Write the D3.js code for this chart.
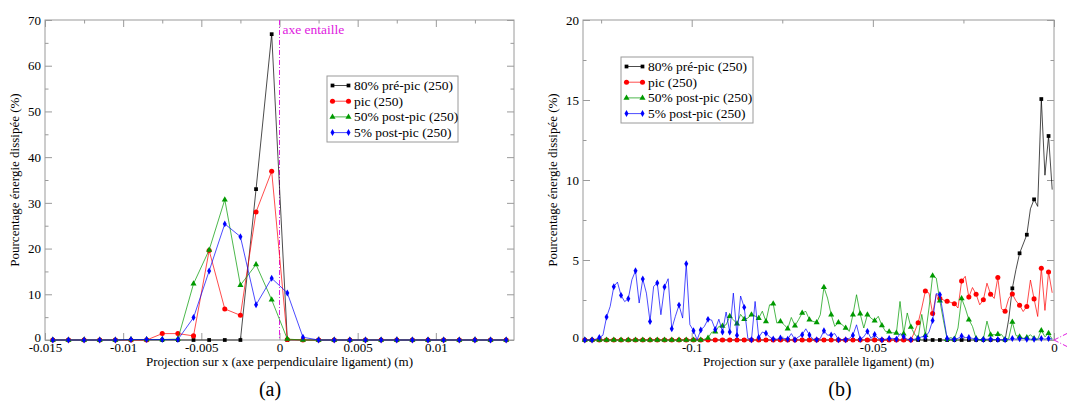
<!DOCTYPE html>
<head>
  <meta charset="utf-8">
  <script src="https://d3js.org/d3.v7.min.js"></script>
  <style>
    body { margin: 0; background: #fff; }
    * { font-family: "Liberation Serif", "DejaVu Serif", serif; }
  </style>
</head>
<body>
  <svg width="1067" height="413"></svg>
  <script>
    // --- shared ---
    const seriesNames = ["80% pré-pic (250)", "pic (250)", "50% post-pic (250)", "5% post-pic (250)"];
    const seriesColors = ["#000000", "#ff0000", "#009a00", "#0000ff"];

    // --- panel (a): projection on x ---
    const xA = [-0.0145, -0.0135, -0.0125, -0.0115, -0.0105, -0.0095, -0.0085, -0.0075, -0.0065, -0.0055,
      -0.0045, -0.0035, -0.0025, -0.0015, -0.0005, 0.0005, 0.0015, 0.0025, 0.0035, 0.0045,
      0.0055, 0.0065, 0.0075, 0.0085, 0.0095, 0.0105, 0.0115, 0.0125, 0.0135, 0.0145];
    const blackA = [0, 0, 0, 0, 0, 0, 0, 0, 0, 0, 0, 0, 0, 33.0, 66.9, 0, 0, 0, 0, 0, 0, 0, 0, 0, 0, 0, 0, 0, 0, 0];
    const redA = [0, 0, 0, 0, 0, 0, 0, 1.4, 1.4, 0.9, 19.6, 6.8, 5.4, 28.0, 36.9, 0.1, 0, 0, 0, 0, 0, 0, 0, 0, 0, 0, 0, 0, 0, 0];
    const greenA = [0, 0, 0, 0, 0, 0.1, 0.1, 0.1, 0.2, 12.3, 19.7, 30.7, 12.0, 16.5, 8.8, 0.2, 0, 0, 0, 0, 0, 0, 0, 0, 0, 0, 0, 0, 0, 0];
    const blueA = [0, 0, 0, 0, 0, 0.1, 0.1, 0.1, 0.1, 4.9, 15.1, 25.4, 22.6, 7.7, 13.5, 10.3, 0.6, 0, 0, 0, 0, 0, 0, 0, 0, 0, 0, 0, 0, 0];
    const xMajorA = [-0.015, -0.01, -0.005, 0, 0.005, 0.01];
    const xMajorLabelsA = ["-0.015", "-0.01", "-0.005", "0", "0.005", "0.01"];
    const xMinorA = [-0.0125, -0.0075, -0.0025, 0.0025, 0.0075, 0.0125];
    const yMajorA = [0, 10, 20, 30, 40, 50, 60, 70];
    const yMinorA = [5, 15, 25, 35, 45, 55, 65];

    // --- panel (b): projection on y ---
    const xB = [
      -0.1295, -0.1285, -0.1275, -0.1265, -0.1255, -0.1245, -0.1235, -0.1225, -0.1215, -0.1205,
      -0.1195, -0.1185, -0.1175, -0.1165, -0.1155, -0.1145, -0.1135, -0.1125, -0.1115, -0.1105,
      -0.1095, -0.1085, -0.1075, -0.1065, -0.1055, -0.1045, -0.1035, -0.1025, -0.1015, -0.1005,
      -0.0995, -0.0985, -0.0975, -0.0965, -0.0955, -0.0945, -0.0935, -0.0925, -0.0915, -0.0905,
      -0.0895, -0.0885, -0.0875, -0.0865, -0.0855, -0.0845, -0.0835, -0.0825, -0.0815, -0.0805,
      -0.0795, -0.0785, -0.0775, -0.0765, -0.0755, -0.0745, -0.0735, -0.0725, -0.0715, -0.0705,
      -0.0695, -0.0685, -0.0675, -0.0665, -0.0655, -0.0645, -0.0635, -0.0625, -0.0615, -0.0605,
      -0.0595, -0.0585, -0.0575, -0.0565, -0.0555, -0.0545, -0.0535, -0.0525, -0.0515, -0.0505,
      -0.0495, -0.0485, -0.0475, -0.0465, -0.0455, -0.0445, -0.0435, -0.0425, -0.0415, -0.0405,
      -0.0395, -0.0385, -0.0375, -0.0365, -0.0355, -0.0345, -0.0335, -0.0325, -0.0315, -0.0305,
      -0.0295, -0.0285, -0.0275, -0.0265, -0.0255, -0.0245, -0.0235, -0.0225, -0.0215, -0.0205,
      -0.0195, -0.0185, -0.0175, -0.0165, -0.0155, -0.0145, -0.0135, -0.0125, -0.0115, -0.0105,
      -0.0095, -0.0085, -0.0075, -0.0065, -0.0055, -0.0045, -0.0035, -0.0025, -0.0015, -0.0005];
    const blackB = [
      0, 0, 0, 0, 0, 0, 0, 0, 0, 0, 0, 0, 0, 0, 0, 0, 0, 0, 0, 0,
      0, 0, 0, 0, 0, 0, 0, 0, 0, 0, 0, 0, 0, 0, 0, 0, 0, 0, 0, 0,
      0, 0, 0, 0, 0, 0, 0, 0, 0, 0, 0, 0, 0, 0, 0, 0, 0, 0, 0, 0,
      0, 0, 0, 0, 0, 0, 0, 0, 0, 0, 0, 0, 0, 0, 0, 0, 0, 0, 0, 0,
      0, 0, 0, 0, 0, 0, 0, 0, 0, 0, 0, 0, 0, 0, 0, 0, 0, 0, 0, 0,
      0, 0, 0, 0, 0, 0, 0, 0, 0, 0, 0, 0, 0, 0, 0, 0, 0, 1.3, 3.23, 4.4,
      5.42, 6.0, 6.58, 8.2, 8.79, 8.35, 15.06, 10.3, 12.75, 9.4];
    const redB = [
      0, 0, 0, 0, 0, 0, 0, 0, 0, 0, 0, 0, 0, 0, 0, 0, 0, 0, 0, 0,
      0, 0, 0, 0, 0, 0, 0, 0, 0, 0, 0, 0, 0, 0, 0, 0, 0, 0, 0, 0,
      0, 0, 0, 0, 0, 0, 0, 0, 0, 0, 0, 0, 0, 0, 0, 0, 0, 0, 0, 0,
      0, 0, 0, 0, 0, 0, 0, 0, 0, 0, 0, 0, 0, 0, 0, 0, 0, 0, 0, 0,
      0, 0, 0, 0, 0, 0, 0, 0, 0, 0, 0, 0.5, 1.08, 2.0, 3.06, 2.93, 1.65, 2.85, 2.6, 2.5,
      2.42, 2.35, 2.27, 2.0, 3.68, 3.98, 2.68, 3.28, 2.86, 2.2, 2.51, 3.55, 2.86, 2.6, 3.9, 1.95, 1.8, 2.6, 2.88, 2.45,
      2.17, 1.78, 2.1, 3.75, 2.57, 1.47, 4.49, 1.85, 4.25, 2.95];
    const greenB = [
      0, 0, 0, 0, 0, 0, 0, 0, 0, 0, 0, 0, 0, 0, 0, 0, 0, 0, 0, 0,
      0, 0, 0, 0, 0, 0, 0, 0, 0, 0, 0, 0, 0, 0.05, 0.12, 0.48, 0.52, 0.85, 0.88, 0.95,
      1.48, 1.27, 1.02, 1.6, 1.3, 1.37, 1.58, 1.5, 1.36, 1.8, 1.16, 2.2, 2.26, 1.06, 1.16, 0.96, 0.71, 1.41, 0.89, 1.27,
      1.69, 1.79, 1.27, 1.16, 1.1, 1.58, 3.29, 2.62, 1.58, 0.85, 1.1, 0.96, 0.75, 0.54, 1.58, 2.83, 1.64, 0.75, 1.58, 1.37,
      1.2, 1.48, 0.91, 0.54, 0.52, 0.45, 0.44, 2.41, 0.39, 1.69, 0.81, 0.37, 0.12, 1.6, 0.3, 2.0, 4.02, 3.87, 2.45, 1.2,
      0.05, 0.15, 0.06, 0.75, 2.6, 2.0, 1.27, 0.85, 0.1, 0.02, 0.05, 1.18, 0.33, 0.33, 0.36, 0.35, 0.03, 0.1, 1.12, 0.28,
      0.21, 0.1, 0.16, 0.33, 0.1, 0.05, 0.6, 0.2, 0.42, 0.06];
    const blueB = [
      0, 0, 0, 0.05, 0.15, 0.3, 1.43, 2.1, 3.33, 3.62, 2.79, 2.4, 2.58, 3.77, 4.33, 2.31, 3.81, 2.93, 1.16, 3.35,
      3.56, 1.58, 3.31, 3.83, 0.7, 1.48, 2.18, 1.37, 4.77, 0.96, 0.58, 0.02, 0.62, 0.85, 1.29, 1.25, 0.66, 1.3, 0.5, 1.75,
      0.5, 2.93, 0.29, 2.75, 2.04, 0.1, 0.02, 2.41, 0.16, 0.5, 0.42, 0.2, 0.06, 0.05, 0.12, 0.1, 0.05, 0.4, 0.02, 0.2,
      0.33, 0.7, 0.31, 0.05, 0.02, 0.1, 0.58, 0.3, 0.31, 0.4, 0.02, 0.02, 0.02, 0.1, 0.3, 0.95, 0.05, 0.2, 0.54, 0.1,
      0.35, 0.1, 0.02, 0.05, 0.1, 0.1, 0.05, 0.4, 0.2, 0.05, 0.02, 0.05, 0.1, 0.2, 0.2, 0.5, 1.22, 2.9, 2.83, 1.5,
      0.1, 0.05, 0.05, 0.1, 0.25, 0.15, 0.15, 0.1, 0.05, 0.03, 0.03, 0.05, 0.05, 0.03, 0.03, 0.02, 0.02, 0.03, 0.1, 0.05,
      0.08, 0.1, 0.05, 0.05, 0.05, 0.05, 0.1, 0.05, 0.1, 0.05];
    const xMajorB = [-0.1, -0.05, 0];
    const xMajorLabelsB = ["-0.1", "-0.05", "0"];
    const xMinorB = [-0.125, -0.075, -0.025];
    const yMajorB = [0, 5, 10, 15, 20];
    const yMinorB = [2.5, 7.5, 12.5, 17.5];

    const svg = d3.select("svg");
    const symbols = [d3.symbolSquare, d3.symbolCircle, d3.symbolTriangle, d3.symbolDiamond];
    const symSizes = [14, 20, 16, 14];
    const frameColor = "#9a9a9a";

    function drawPanel(p) {
      const x = d3.scaleLinear().domain(p.xDomain).range([p.left, p.right]);
      const y = d3.scaleLinear().domain(p.yDomain).range([p.bottom, p.top]);
      const g = svg.append("g");

      // ticks on all four sides, pointing inward
      const addAxis = (axis, tx, ty, labels) => {
        const a = g.append("g").attr("transform", `translate(${tx},${ty})`).call(axis);
        a.select(".domain").remove();
        a.selectAll(".tick line").attr("stroke", frameColor);
        a.selectAll(".tick text").attr("fill", "#000").style("font-size", "13px");
        if (!labels) a.selectAll(".tick text").remove();
        return a;
      };
      const fmt = (vals, labels) => d => labels[vals.indexOf(d)];
      addAxis(d3.axisBottom(x).tickValues(p.xMajor).tickFormat(fmt(p.xMajor, p.xLabels))
        .tickSize(-7).tickPadding(3), 0, p.bottom, true);
      addAxis(d3.axisBottom(x).tickValues(p.xMinor).tickFormat("").tickSize(-3.5), 0, p.bottom, false);
      addAxis(d3.axisTop(x).tickValues(p.xMajor).tickSize(-7), 0, p.top, false);
      addAxis(d3.axisTop(x).tickValues(p.xMinor).tickSize(-3.5), 0, p.top, false);
      const yl = addAxis(d3.axisLeft(y).tickValues(p.yMajor).tickFormat(d3.format("d"))
        .tickSize(-7).tickPadding(4), p.left, 0, true);
      // the "0" label sits a little above the x tick labels
      yl.selectAll(".tick text").filter(d => d === 0).attr("dy", "0.1em");
      addAxis(d3.axisLeft(y).tickValues(p.yMinor).tickFormat("").tickSize(-3.5), p.left, 0, false);
      addAxis(d3.axisRight(y).tickValues(p.yMajor).tickSize(-7), p.right, 0, false);
      addAxis(d3.axisRight(y).tickValues(p.yMinor).tickSize(-3.5), p.right, 0, false);

      g.append("rect")
        .attr("x", p.left).attr("y", p.top)
        .attr("width", p.right - p.left).attr("height", p.bottom - p.top)
        .attr("fill", "none").attr("stroke", frameColor);

      if (p.notch) p.notch(g, x, y);

      const line = d3.line().x(d => x(d[0])).y(d => y(d[1]));
      p.series.forEach((vals, s) => {
        const pts = vals.map((v, i) => [p.xs[i], v]);
        g.append("path").datum(pts)
          .attr("d", line).attr("fill", "none")
          .attr("stroke", seriesColors[s]).attr("stroke-width", 1).attr("stroke-opacity", 0.7);
        g.selectAll(null).data(pts.filter((d, i) => i % p.skip === 0)).join("path")
          .attr("transform", d => `translate(${x(d[0])},${y(d[1])})`)
          .attr("d", d3.symbol().type(symbols[s]).size(symSizes[s]))
          .attr("fill", seriesColors[s]);
      });

      // legend
      const lg = g.append("g").attr("transform", `translate(${p.legend.x},${p.legend.y})`);
      lg.append("rect").attr("width", p.legend.w).attr("height", p.legend.h)
        .attr("fill", "#fff").attr("stroke", frameColor);
      seriesNames.forEach((name, s) => {
        const cy = 9.5 + s * 15.7;
        lg.append("line").attr("x1", 5.5).attr("x2", 21.5).attr("y1", cy).attr("y2", cy)
          .attr("stroke", seriesColors[s]).attr("stroke-opacity", 0.7);
        [5.5, 21.5].forEach(cx => lg.append("path")
          .attr("transform", `translate(${cx},${cy})`)
          .attr("d", d3.symbol().type(symbols[s]).size(symSizes[s]))
          .attr("fill", seriesColors[s]));
        lg.append("text").attr("x", 27).attr("y", cy + 4.5)
          .style("font-size", "13.5px").text(name);
      });

      g.append("text")
        .attr("x", (p.left + p.right) / 2).attr("y", p.bottom + 26)
        .attr("text-anchor", "middle").style("font-size", "13px").text(p.xTitle);
      g.append("text")
        .attr("transform", `translate(${p.yTitleX},${(p.top + p.bottom) / 2}) rotate(-90)`)
        .attr("text-anchor", "middle").style("font-size", "13px")
        .text("Pourcentage énergie dissipée (%)");
      g.append("text")
        .attr("x", p.tagX).attr("y", 396)
        .attr("text-anchor", "middle").style("font-size", "20px").text(p.tag);
    }

    drawPanel({
      left: 45, right: 514, top: 20, bottom: 340,
      xDomain: [-0.015, 0.015], yDomain: [0, 70],
      xMajor: xMajorA, xLabels: xMajorLabelsA, xMinor: xMinorA,
      yMajor: yMajorA, yMinor: yMinorA,
      xs: xA, series: [blackA, redA, greenA, blueA], skip: 1,
      legend: { x: 327, y: 76, w: 131, h: 66 },
      xTitle: "Projection sur x (axe perpendiculaire ligament) (m)",
      yTitleX: 19, tag: "(a)", tagX: 270,
      notch: (g, x, y) => {
        g.append("line")
          .attr("x1", x(0)).attr("x2", x(0)).attr("y1", y(70)).attr("y2", y(0))
          .attr("stroke", "#e020e0").attr("stroke-dasharray", "5,2,1,2");
        g.append("text").attr("x", x(0) + 3).attr("y", y(70) + 14)
          .attr("fill", "#e020e0").style("font-size", "13.5px").text("axe entaille");
      }
    });

    drawPanel({
      left: 583, right: 1054, top: 20, bottom: 340,
      xDomain: [-0.13, 0], yDomain: [0, 20],
      xMajor: xMajorB, xLabels: xMajorLabelsB, xMinor: xMinorB,
      yMajor: yMajorB, yMinor: yMinorB,
      xs: xB, series: [blackB, redB, greenB, blueB], skip: 2,
      legend: { x: 621, y: 57, w: 132, h: 66 },
      xTitle: "Projection sur y (axe parallèle ligament) (m)",
      yTitleX: 557, tag: "(b)", tagX: 840,
      notch: (g, x, y) => {
        [-1, 1].forEach(dir => g.append("line")
          .attr("x1", x(0)).attr("x2", x(0) + 14)
          .attr("y1", y(0)).attr("y2", y(0) + dir * 7)
          .attr("stroke", "#e020e0").attr("stroke-dasharray", "5,2,1,2"));
      }
    });
  </script>
</body>
